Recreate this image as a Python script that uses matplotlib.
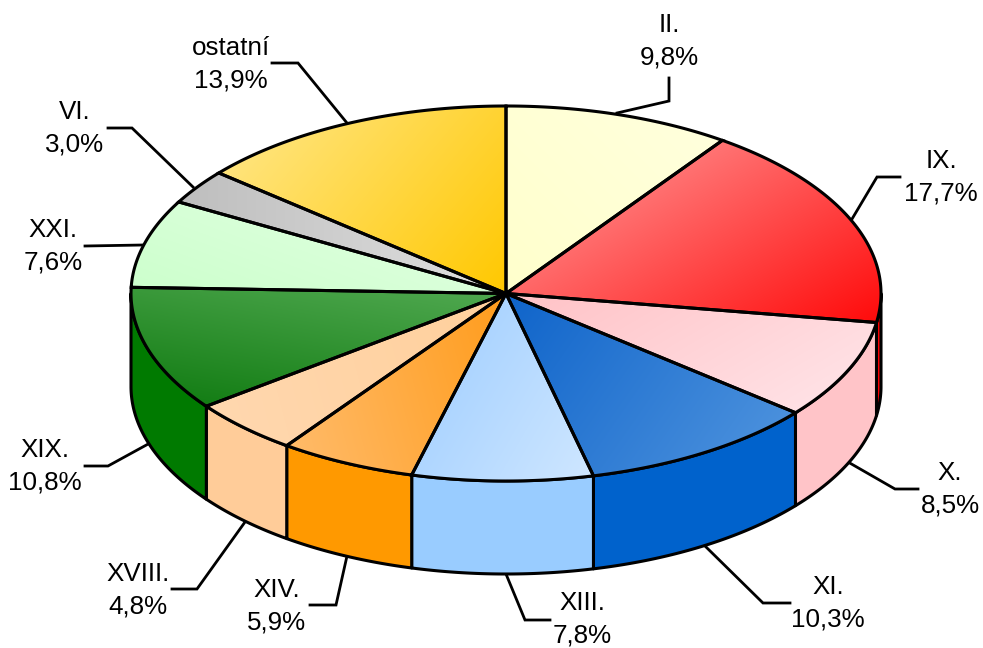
import numpy as np
import matplotlib
matplotlib.use("Agg")
import matplotlib.pyplot as plt
from matplotlib.colors import to_rgb
from matplotlib.patches import PathPatch
from matplotlib.path import Path

categories = ["II.", "IX.", "X.", "XI.", "XIII.", "XIV.", "XVIII.", "XIX.", "XXI.", "VI.", "ostatní"]
values = [9.8, 17.7, 8.5, 10.3, 7.8, 5.9, 4.8, 10.8, 7.6, 3.0, 13.9]
side_colors = ["#FFFFCC", "#FF0000", "#FFC4C8", "#0062CC", "#99CCFF", "#FF9900",
               "#FFCC99", "#007A00", "#CCFFCC", "#C0C0C0", "#FFCC00"]
grad_start = ["#FFFFCC", "#FFA4A4", "#FFC2C6", "#0F64CA", "#9CCCFF", "#FFBC6C",
              "#FFD8B0", "#0F7A10", "#CCFFCC", "#BEBEBE", "#FFE88E"]
grad_end = ["#FFFFDE", "#FF0A0A", "#FFE6EA", "#5296DF", "#CFE7FF", "#FF9C1C",
            "#FFD09C", "#52AA52", "#E4FFE4", "#E0E0E0", "#FFC800"]
grad_angle = [45, -60, -60, -35, -30, 15, 15, 80, 70, 0, -40]

label_pos = [(669, 41), (941, 177), (950, 489), (828, 603), (582, 619), (277, 606),
             (138, 590), (45, 466), (53, 246), (75, 128), (231, 64)]
leaders = [[(617, 113), (669, 101), (669, 78)],
           [(852, 219), (877, 177), (900, 177)],
           [(848, 462), (895, 489), (918, 489)],
           [(704, 545), (763, 603), (790, 603)],
           [(506, 574), (525, 620), (550, 620)],
           [(347, 556), (336, 605), (310, 605)],
           [(245, 522), (197, 589), (172, 589)],
           [(150, 443), (108, 466), (85, 466)],
           [(143, 245), (85, 246)],
           [(193, 187), (132, 128), (108, 128)],
           [(347, 123), (298, 63), (272, 63)]]

cx, cy, rx, ry, depth = 506, 293.5, 375, 187.5, 93
LW = 2.2

plt.rcParams["font.family"] = ["Liberation Sans"]
fig = plt.figure(figsize=(9.83, 6.48), dpi=100)
ax = fig.add_axes([0, 0, 1, 1])
ax.set_xlim(0, 983)
ax.set_ylim(648, 0)
ax.axis("off")

fr = np.cumsum([0] + values) / sum(values) * 2 * np.pi


def rim(a, b, n=120):
    t = np.linspace(a, b, n)
    return cx + rx * np.sin(t), cy - ry * np.cos(t)


# side wall (only the front half of the cylinder is visible)
for i, c in enumerate(side_colors):
    a, b = max(fr[i], np.pi / 2), min(fr[i + 1], 3 * np.pi / 2)
    if b <= a:
        continue
    x, y = rim(a, b)
    xs = np.r_[x, x[::-1]]
    ys = np.r_[y, y[::-1] + depth]
    ax.fill(xs, ys, facecolor=c, edgecolor="black", lw=LW, joinstyle="round", zorder=2)

# top face slices with a gradient fill
for i in range(len(values)):
    x, y = rim(fr[i], fr[i + 1])
    xs, ys = np.r_[cx, x, cx], np.r_[cy, y, cy]
    path = Path(np.c_[xs, ys])
    x0, x1, y0, y1 = xs.min(), xs.max(), ys.min(), ys.max()
    nx, ny = max(int(x1 - x0), 2), max(int(y1 - y0), 2)
    gx, gy = np.meshgrid(np.linspace(x0, x1, nx), np.linspace(y0, y1, ny))
    th = np.deg2rad(grad_angle[i])
    d = (gx - x0) * np.cos(th) - (gy - y0) * np.sin(th)
    d = (d - d.min()) / (d.max() - d.min())
    c0, c1 = np.array(to_rgb(grad_start[i])), np.array(to_rgb(grad_end[i]))
    img = c0 + (c1 - c0) * d[..., None]
    im = ax.imshow(img, extent=(x0, x1, y1, y0), aspect="auto", zorder=3, interpolation="bilinear")
    patch = PathPatch(path, transform=ax.transData, facecolor="none", edgecolor="none")
    ax.add_patch(patch)
    im.set_clip_path(patch)
    ax.add_patch(PathPatch(path, facecolor="none", edgecolor="black", lw=LW, joinstyle="miter", zorder=4))

ax.set_xlim(0, 983)
ax.set_ylim(648, 0)

for name, v, (lx, ly), pts in zip(categories, values, label_pos, leaders):
    p = np.array(pts)
    ax.plot(p[:, 0], p[:, 1], color="black", lw=2.0, solid_joinstyle="miter", zorder=1)
    pct = f"{v:.1f}".replace(".", ",") + "%"
    ax.text(lx, ly + 0.5, name + "\n" + pct, ha="center", va="center", fontsize=18.7,
            linespacing=1.43, color="black", zorder=5)

fig.savefig("out.png", dpi=100)
